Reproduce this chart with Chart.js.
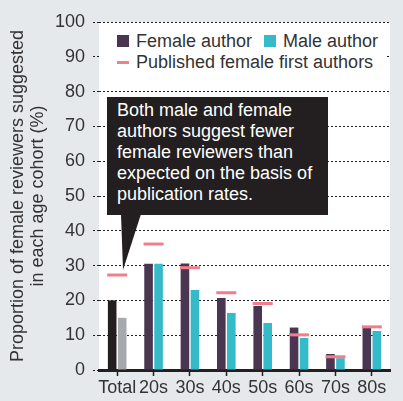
<!DOCTYPE html>
<html lang="en">
<head>
<meta charset="UTF-8" />
<title>Female reviewers suggested by age cohort</title>
<style>
  html, body { margin: 0; padding: 0; background: #e6e9ec; }
  #wrap { position: relative; width: 403px; height: 401px; font-family: "Liberation Sans", Arial, sans-serif; color: #333; }
  #legend { position: absolute; left: 99px; top: 25px; width: 288px; height: 63px; background: #fff; }
  .item { position: absolute; font-size: 18px; line-height: 20px; white-space: nowrap; }
  .sw { position: absolute; }
  #note { position: absolute; left: 107px; top: 97px; width: 221px; height: 118px; background: #231f20; color: #fff;
          font-size: 18px; line-height: 21px; box-sizing: border-box; padding: 3px 0 0 10px; }
  #tip { position: absolute; left: 121px; top: 214px; width: 20px; height: 56px; background: #231f20;
         clip-path: polygon(0 0, 100% 0, 10% 100%); }
</style>
</head>
<body>
<div id="wrap">
  <canvas id="myChart" width="403" height="401"></canvas>
  <div id="legend"></div>
  <div id="note">Both male and female<br>authors suggest fewer<br>female reviewers than<br>expected on the basis of<br>publication rates.</div>
  <div id="tip"></div>
</div>

<script src="https://cdn.jsdelivr.net/npm/chart.js"></script>
<script>
  const categories = ["Total", "20s", "30s", "40s", "50s", "60s", "70s", "80s"];
  const femaleAuthor = [20, 30.5, 30.6, 20.7, 18.4, 12.2, 4.6, 12.2];
  const maleAuthor = [15, 30.5, 23, 16.4, 13.5, 9.2, 3.4, 11.2];
  const publishedFemale = [27.3, 36.2, 29.4, 22.2, 19.1, 10.1, 3.8, 12.4];
  const yTicks = [0, 10, 20, 30, 40, 50, 60, 70, 80, 90, 100];

  const purple = "#4a3650";
  const teal = "#35bac9";
  const pink = "#f27d8b";
  const ink = "#231f20";

  // the "Total" pair is drawn in black / grey
  const femaleColors = categories.map((c) => (c === "Total" ? ink : purple));
  const maleColors = categories.map((c) => (c === "Total" ? "#a7a9ac" : teal));

  // html legend
  const legend = document.getElementById("legend");
  const items = [
    { label: "Female author", color: purple, kind: "box", x: 18, y: 6 },
    { label: "Male author", color: teal, kind: "box", x: 165, y: 6 },
    { label: "Published female first authors", color: pink, kind: "line", x: 18, y: 27 },
  ];
  items.forEach((it) => {
    const sw = document.createElement("div");
    sw.className = "sw";
    if (it.kind === "box") {
      sw.style.cssText = `left:${it.x}px;top:${it.y + 4}px;width:12px;height:12px;background:${it.color}`;
    } else {
      sw.style.cssText = `left:${it.x}px;top:${it.y + 9}px;width:12px;height:3px;background:${it.color}`;
    }
    legend.appendChild(sw);
    const t = document.createElement("div");
    t.className = "item";
    t.style.left = it.x + 19 + "px";
    t.style.top = it.y + "px";
    t.textContent = it.label;
    legend.appendChild(t);
  });

  const whiteArea = {
    id: "whiteArea",
    beforeDraw(chart) {
      const a = chart.chartArea;
      const c = chart.ctx;
      c.save();
      c.fillStyle = "#fff";
      c.fillRect(a.left, a.top, a.right - a.left, a.bottom - a.top);
      c.restore();
    },
  };

  const font = { family: "'Liberation Sans', Arial, sans-serif", size: 18 };

  new Chart(document.getElementById("myChart"), {
    type: "bar",
    data: {
      labels: categories,
      datasets: [
        {
          type: "line",
          label: "Published female first authors",
          data: publishedFemale,
          showLine: false,
          pointStyle: "line",
          pointRadius: 10,
          pointBorderWidth: 3,
          borderColor: pink,
          backgroundColor: pink,
          order: 0,
        },
        {
          label: "Female author",
          data: femaleAuthor,
          backgroundColor: femaleColors,
          categoryPercentage: 0.55,
          barPercentage: 0.86,
          order: 1,
        },
        {
          label: "Male author",
          data: maleAuthor,
          backgroundColor: maleColors,
          categoryPercentage: 0.55,
          barPercentage: 0.86,
          order: 1,
        },
      ],
    },
    options: {
      responsive: false,
      animation: false,
      layout: { padding: { top: 22, right: 0, bottom: 0, left: 0 } },
      plugins: { legend: { display: false }, tooltip: { enabled: false } },
      scales: {
        x: {
          grid: {
            offset: false,
            drawOnChartArea: false,
            drawTicks: true,
            tickLength: 6,
            tickColor: ink,
            tickWidth: 1.5,
          },
          border: { color: ink, width: 3 },
          ticks: { color: "#333", font: font, padding: 1, maxRotation: 0, minRotation: 0, autoSkip: false },
          afterFit(s) { s.height = 31; },
        },
        y: {
          min: 0,
          max: 100,
          afterBuildTicks(s) { s.ticks = yTicks.map((v) => ({ value: v })); },
          grid: {
            color: ink,
            lineWidth: 1,
            tickLength: 6,
            tickColor: ink,
            tickBorderDash: [2, 2],
          },
          border: { display: false, dash: [2, 2] },
          ticks: { color: "#333", font: font, padding: 8 },
          title: {
            display: true,
            text: ["Proportion of female reviewers suggested", "in each age cohort (%)"],
            color: "#333",
            font: { family: font.family, size: 18, lineHeight: 1.1 },
            padding: { top: 8, bottom: 2 },
          },
          afterFit(s) { s.width = 99; },
        },
      },
    },
    plugins: [whiteArea],
  });
</script>
</body>
</html>
